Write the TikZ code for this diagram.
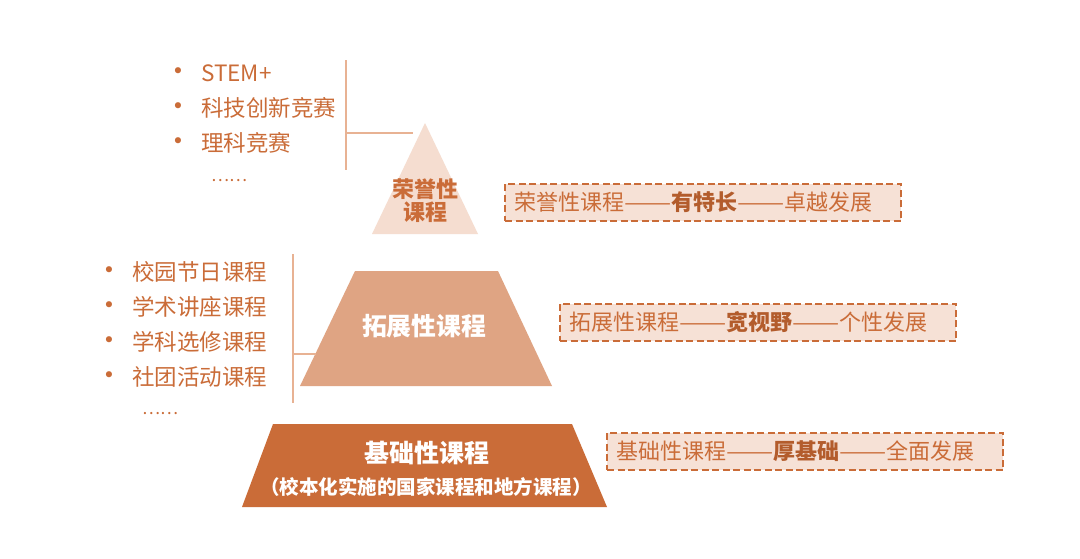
\documentclass[tikz,border=0pt]{standalone}
\usepackage{fontspec}
\setmainfont{Noto Sans CJK SC}
\newfontfamily\bulfont{DejaVu Sans}
\definecolor{dark}{HTML}{CA6C38}
\definecolor{darkbold}{HTML}{B35C2C}
\definecolor{mid}{HTML}{DFA483}
\definecolor{light}{HTML}{F5DDD0}
\definecolor{boxfill}{HTML}{F6E1D6}
\definecolor{linec}{HTML}{E8B293}
\newcommand{\wdash}{\scalebox{1.28}[1]{——}}
\begin{document}
\begin{tikzpicture}[x=1pt,y=-1pt,
  item/.style={anchor=west, text=dark, font=\fontsize{22.5}{26}\selectfont, inner sep=0pt},
  dots/.style={anchor=west, text=dark, font=\fontsize{17}{18}\selectfont, inner sep=0pt},
  bul/.style={anchor=center, text=dark, font=\bulfont\fontsize{21}{22}\selectfont, inner sep=0pt},
  conn/.style={draw=linec, line width=1.2pt},
  dbox/.style={draw=dark, fill=boxfill, line width=2pt, dash pattern=on 7pt off 3.5pt,
    anchor=west, minimum height=37pt, text width=378pt, inner xsep=9pt, inner ysep=0pt,
    align=left, text=dark, font=\fontsize{22}{25}\selectfont},
  hl/.style={font=\fontsize{22}{25}\selectfont\bfseries, text=darkbold}
]
\useasboundingbox (0,0) rectangle (1080,558);
\fill[white] (0,0) rectangle (1080,558);

% top triangle
\coordinate (tA) at (425,123);
\coordinate (tL) at (372,234);
\coordinate (tR) at (478,234);
\fill[light] (tA) -- (tR) -- (tL) -- cycle;
\node[text=dark, font=\fontsize{22}{25}\selectfont\bfseries, align=center, inner sep=0pt] (top) at (425,201) {荣誉性\\[-2pt]课程};

% middle trapezoid
\coordinate (mTL) at (355,271);
\coordinate (mTR) at (498,271);
\coordinate (mBR) at (552,386);
\coordinate (mBL) at (300,386);
\fill[mid] (mTL) -- (mTR) -- (mBR) -- (mBL) -- cycle;
\node[text=white, font=\fontsize{24.8}{28}\selectfont\bfseries, inner sep=0pt] (midt) at (424,326) {拓展性课程};

% bottom trapezoid
\coordinate (bTL) at (273,424);
\coordinate (bTR) at (572,424);
\coordinate (bBR) at (607,507);
\coordinate (bBL) at (242,507);
\fill[dark] (bTL) -- (bTR) -- (bBR) -- (bBL) -- cycle;
\node[text=white, font=\fontsize{25}{28}\selectfont\bfseries, inner sep=0pt] (bott) at (427,453) {基础性课程};
\node[text=white, font=\fontsize{19.5}{22}\selectfont\bfseries, inner sep=0pt] (bots) at (426,487) {（校本化实施的国家课程和地方课程）};

% top list
\node[bul] (b1) at (178,73) {•};
\node[item] (i1) at (201,73) {STEM+};
\node[bul] (b2) at (178,108) {•};
\node[item] (i2) at (201,108) {科技创新竞赛};
\node[bul] (b3) at (178,143) {•};
\node[item] (i3) at (201,143) {理科竞赛};
\node[dots] (i4) at (211,181) {……};

\coordinate (v1t) at (346,60);
\coordinate (v1b) at (346,170);
\coordinate (v1m) at (346,133);
\coordinate (v1e) at (413,133);
\draw[conn] (v1t) -- (v1b);
\draw[conn] (v1m) -- (v1e);

% middle list
\node[bul] (c1) at (109,272) {•};
\node[item] (j1) at (132,272) {校园节日课程};
\node[bul] (c2) at (109,307) {•};
\node[item] (j2) at (132,307) {学术讲座课程};
\node[bul] (c3) at (109,342) {•};
\node[item] (j3) at (132,342) {学科选修课程};
\node[bul] (c4) at (109,377) {•};
\node[item] (j4) at (132,377) {社团活动课程};
\node[dots] (j5) at (142,414) {……};

\coordinate (v2t) at (293,254);
\coordinate (v2b) at (293,403);
\coordinate (v2m) at (293,354);
\coordinate (v2e) at (316,354);
\draw[conn] (v2t) -- (v2b);
\draw[conn] (v2m) -- (v2e);

% dashed boxes
\node[dbox] (box1) at (504,202) {荣誉性课程\wdash{\bfseries\color{darkbold}有特长}\wdash 卓越发展};
\node[dbox] (box2) at (559,322) {拓展性课程\wdash{\bfseries\color{darkbold}宽视野}\wdash 个性发展};
\node[dbox] (box3) at (606,451) {基础性课程\wdash{\bfseries\color{darkbold}厚基础}\wdash 全面发展};
\end{tikzpicture}
\end{document}
